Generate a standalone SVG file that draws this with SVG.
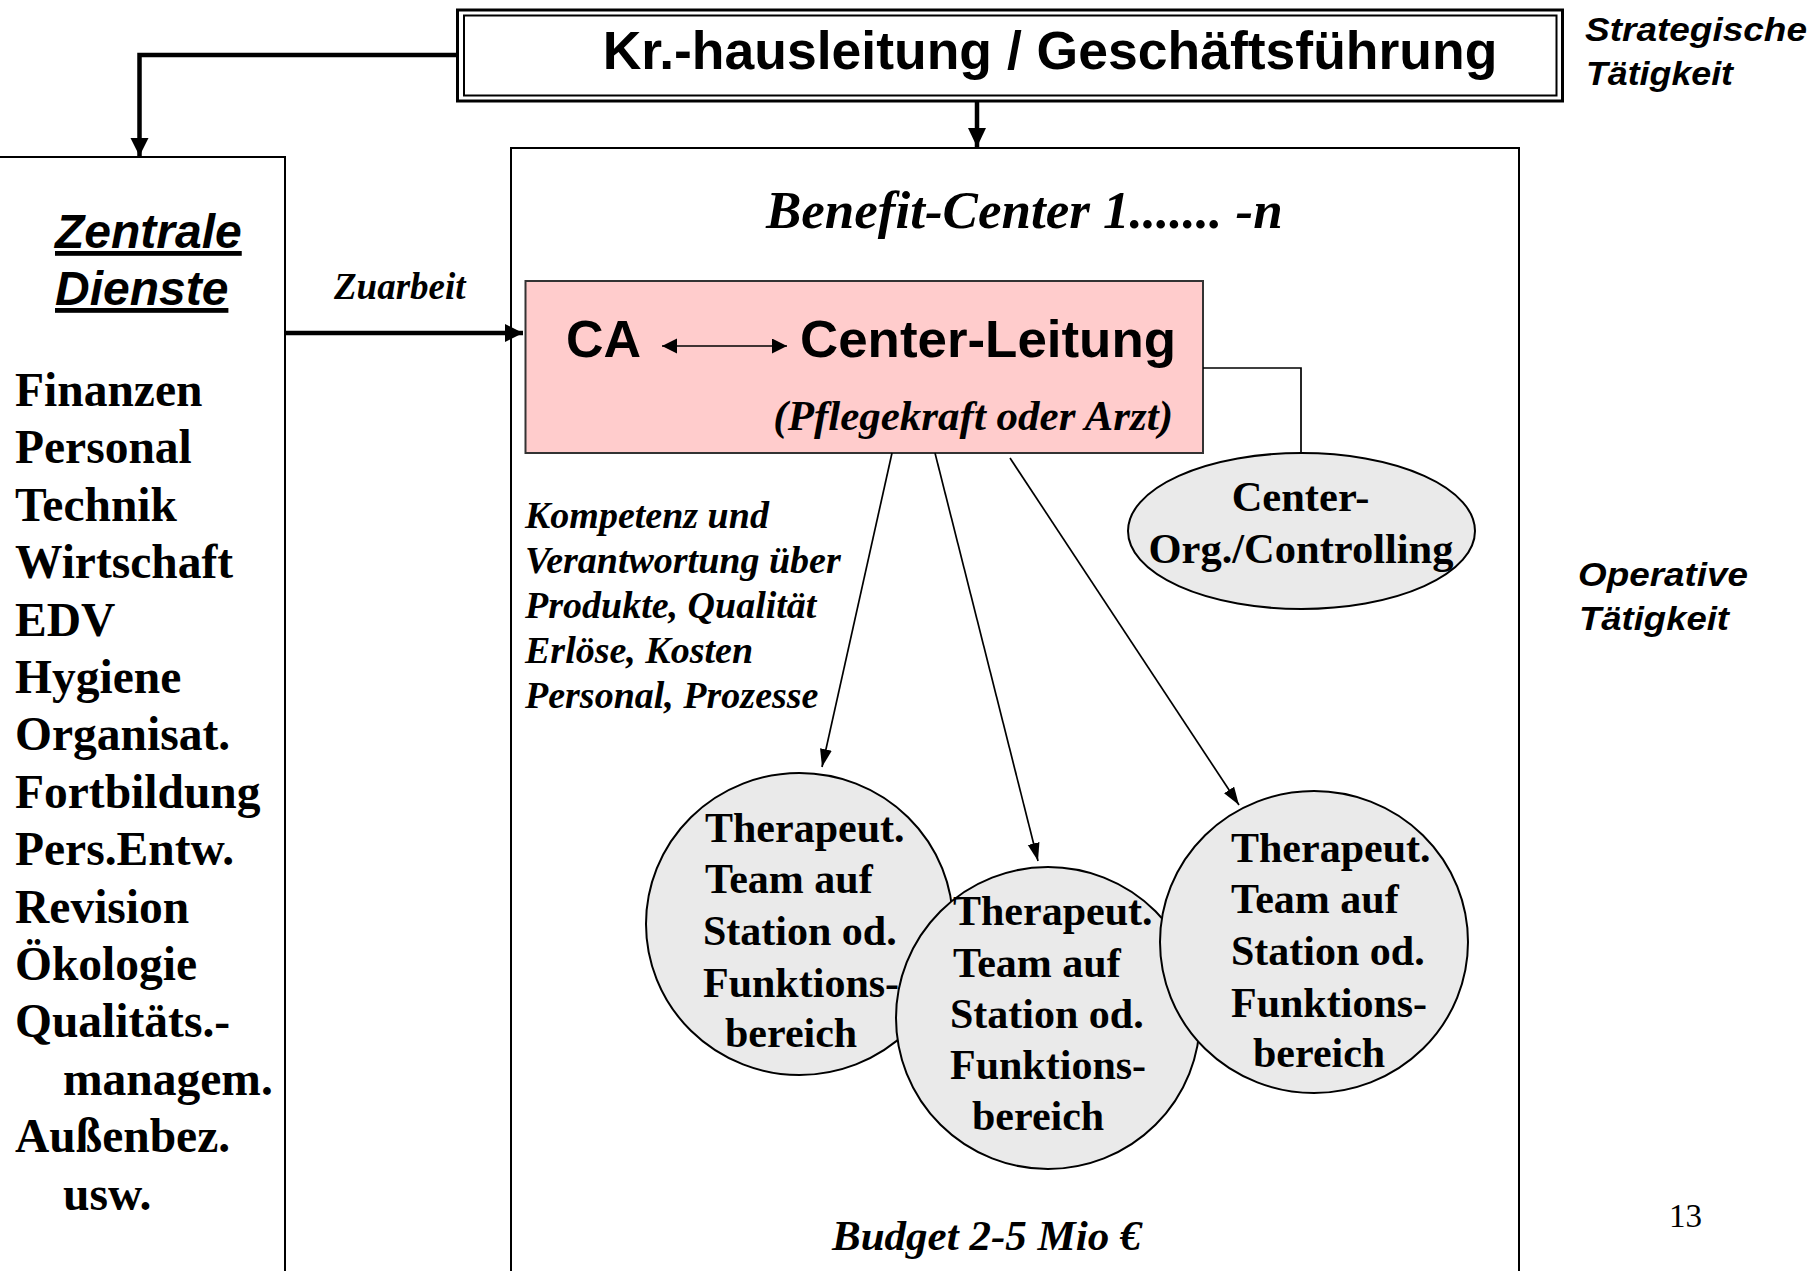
<svg xmlns="http://www.w3.org/2000/svg" width="1809" height="1271" viewBox="0 0 1809 1271">
<style>
.sans{font-family:"Liberation Sans",Arial,sans-serif;font-weight:bold}
.serif{font-family:"Liberation Serif","Times New Roman",serif;font-weight:bold}
.it{font-style:italic}
.box{fill:#fff;stroke:#000;stroke-width:2}
.ell{fill:#EAEAEA;stroke:#000;stroke-width:2}
.thick{fill:none;stroke:#000;stroke-width:4.5}
.thin{fill:none;stroke:#000;stroke-width:1.7}
.list{font-size:47.5px}
.team{font-size:42px}
</style>
<defs>
<marker id="bigHead" markerUnits="userSpaceOnUse" markerWidth="20" markerHeight="20" refX="18" refY="9" orient="auto"><path d="M0,0 L18,9 L0,18 z" fill="#000"/></marker>
<marker id="midHead" markerUnits="userSpaceOnUse" markerWidth="22" markerHeight="20" refX="19" refY="9" orient="auto"><path d="M0,0 L19,9 L0,18 z" fill="#000"/></marker>
<marker id="thinHead" markerUnits="userSpaceOnUse" markerWidth="20" markerHeight="14" refX="18" refY="6" orient="auto"><path d="M0,0 L18,6 L0,12 z" fill="#000"/></marker>
<marker id="dblHead" markerUnits="userSpaceOnUse" markerWidth="18" markerHeight="16" refX="15" refY="7.5" orient="auto-start-reverse"><path d="M0,0 L15,7.5 L0,15 z" fill="#000"/></marker>
</defs>
<rect width="1809" height="1271" fill="#fff"/>

<g id="top">
<rect x="457.5" y="10" width="1105" height="91" fill="#fff" stroke="#000" stroke-width="3"/>
<rect x="464" y="15.5" width="1092.5" height="80" fill="none" stroke="#000" stroke-width="2"/>
<text class="sans" x="1050" y="69" font-size="53.5" text-anchor="middle">Kr.-hausleitung / Geschäftsführung</text>
</g>

<g id="strategisch">
<text class="sans it" x="1585" y="41" font-size="34" textLength="222" lengthAdjust="spacingAndGlyphs">Strategische</text>
<text class="sans it" x="1586" y="85" font-size="34" textLength="147" lengthAdjust="spacingAndGlyphs">Tätigkeit</text>
</g>

<g id="zentrale">
<rect class="box" x="-3" y="157" width="288" height="1130"/>
<text class="sans it" x="55" y="248" font-size="48" text-decoration="underline">Zentrale</text>
<text class="sans it" x="55" y="305" font-size="48" text-decoration="underline">Dienste</text>
<g class="serif list">
<text x="15" y="406">Finanzen</text>
<text x="15" y="463.4">Personal</text>
<text x="15" y="520.8">Technik</text>
<text x="15" y="578.2">Wirtschaft</text>
<text x="15" y="635.6">EDV</text>
<text x="15" y="693">Hygiene</text>
<text x="15" y="750.4">Organisat.</text>
<text x="15" y="807.8">Fortbildung</text>
<text x="15" y="865.2">Pers.Entw.</text>
<text x="15" y="922.6">Revision</text>
<text x="15" y="980">Ökologie</text>
<text x="15" y="1037.4">Qualitäts.-</text>
<text x="63" y="1094.8">managem.</text>
<text x="15" y="1152.2">Außenbez.</text>
<text x="63" y="1209.6">usw.</text>
</g>
</g>

<g id="zuarbeit">
<text class="serif it" x="334" y="299" font-size="37">Zuarbeit</text>
</g>

<g id="benefit">
<rect class="box" x="511" y="148" width="1008" height="1140"/>
<text class="serif it" x="766" y="228" font-size="53">Benefit-Center 1....... -n</text>
<text class="serif it" x="832" y="1250" font-size="43">Budget 2-5 Mio €</text>
</g>

<g id="centerleitung">
<rect x="525.5" y="281" width="677.5" height="172" fill="#FFCCCC" stroke="#333" stroke-width="2"/>
<text class="sans" x="566" y="357" font-size="52">CA</text>
<text class="sans" x="800" y="357" font-size="52" textLength="376" lengthAdjust="spacingAndGlyphs">Center-Leitung</text>
<text class="serif it" x="1173" y="430" font-size="43" text-anchor="end">(Pflegekraft oder Arzt)</text>
</g>

<g id="kompetenz" class="serif it" font-size="38">
<text x="525" y="528">Kompetenz und</text>
<text x="525" y="573">Verantwortung über</text>
<text x="525" y="618">Produkte, Qualität</text>
<text x="525" y="663">Erlöse, Kosten</text>
<text x="525" y="708">Personal, Prozesse</text>
</g>

<g id="centerorg">
<ellipse class="ell" cx="1301.5" cy="531" rx="173.5" ry="78"/>
<text class="serif" x="1300.5" y="511" font-size="42.5" text-anchor="middle">Center-</text>
<text class="serif" x="1301" y="563" font-size="42.5" text-anchor="middle">Org./Controlling</text>
</g>

<g id="team1" class="serif team">
<ellipse class="ell" cx="799.5" cy="924" rx="153.5" ry="151"/>
<text x="705" y="842">Therapeut.</text>
<text x="705" y="893">Team auf</text>
<text x="703" y="945">Station od.</text>
<text x="703" y="997">Funktions-</text>
<text x="725" y="1047">bereich</text>
</g>

<g id="team2" class="serif team">
<ellipse class="ell" cx="1048" cy="1018" rx="152" ry="151"/>
<text x="953" y="925">Therapeut.</text>
<text x="953" y="977">Team auf</text>
<text x="950" y="1028">Station od.</text>
<text x="950" y="1079">Funktions-</text>
<text x="972" y="1130">bereich</text>
</g>

<g id="team3" class="serif team">
<ellipse class="ell" cx="1314" cy="942" rx="154" ry="151"/>
<text x="1231" y="862">Therapeut.</text>
<text x="1231" y="913">Team auf</text>
<text x="1231" y="965">Station od.</text>
<text x="1231" y="1017">Funktions-</text>
<text x="1253" y="1067">bereich</text>
</g>

<g id="operativ">
<text class="sans it" x="1578" y="586" font-size="34" textLength="170" lengthAdjust="spacingAndGlyphs">Operative</text>
<text class="sans it" x="1579" y="630" font-size="34" textLength="150" lengthAdjust="spacingAndGlyphs">Tätigkeit</text>
</g>

<g id="pagenum">
<text x="1669" y="1227" font-size="33" font-family="'Liberation Serif','Times New Roman',serif">13</text>
</g>

<g id="connectors">
<polyline class="thick" points="457,55 139.5,55 139.5,156" marker-end="url(#bigHead)"/>
<line class="thick" x1="977" y1="102" x2="977" y2="147" stroke-width="3.5" marker-end="url(#midHead)"/>
<line class="thick" x1="285" y1="333" x2="523" y2="333" marker-end="url(#bigHead)"/>
<line class="thin" x1="662" y1="346" x2="787" y2="346" stroke-width="1.8" marker-start="url(#dblHead)" marker-end="url(#dblHead)"/>
<polyline class="thin" points="1203,368 1301,368 1301,453"/>
<line class="thin" x1="892" y1="453" x2="822" y2="767" marker-end="url(#thinHead)"/>
<line class="thin" x1="935" y1="453" x2="1038" y2="861" marker-end="url(#thinHead)"/>
<line class="thin" x1="1010" y1="458" x2="1239" y2="805" marker-end="url(#thinHead)"/>
</g>
</svg>
